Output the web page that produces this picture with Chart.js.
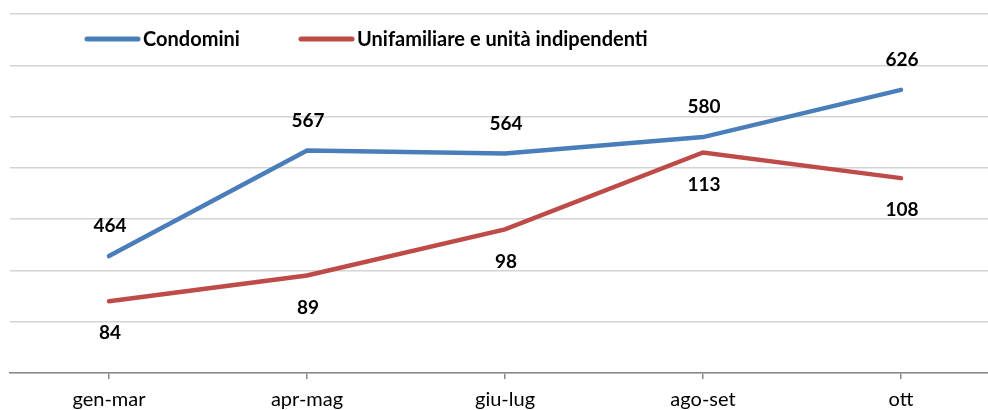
<!DOCTYPE html>
<html>
<head>
<meta charset="utf-8">
<script src="https://cdn.jsdelivr.net/npm/chart.js@4/dist/chart.umd.min.js"></script>
<style>
  html, body { margin: 0; padding: 0; background: #fff; overflow: hidden; }
  #wrap { width: 1012px; height: 410px; position: relative; }
</style>
</head>
<body>
<div id="wrap"><canvas id="graficoCompravendite"></canvas></div>
<script>
// periodi e valori
var periodi = ['gen-mar', 'apr-mag', 'giu-lug', 'ago-set', 'ott'];
var condomini = [464, 567, 564, 580, 626];
var unifamiliari = [84, 89, 98, 113, 108];
var nomiSerie = ['Condomini', 'Unifamiliare e unità indipendenti'];

var BLU = '#4A7EBB';
var ROSSO = '#BE4B48';
var FONT = 'Lato, "Open Sans", sans-serif';

// etichette dei valori sopra/sotto i punti
var etichettePlugin = {
    id: 'etichette',
    afterDatasetsDraw: function (chart) {
        var ctx = chart.ctx;
        ctx.save();
        ctx.font = 'bold 19px ' + FONT;
        ctx.fillStyle = '#000';
        ctx.textAlign = 'center';
        ctx.textBaseline = 'middle';
        chart.data.datasets.forEach(function (ds, i) {
            var meta = chart.getDatasetMeta(i);
            meta.data.forEach(function (pt, j) {
                ctx.fillText(ds.data[j], pt.x + 1, pt.y + ds.spostamento);
            });
        });
        ctx.restore();
    }
};

// legenda disegnata dentro l'area del grafico
var legendaPlugin = {
    id: 'legenda',
    afterDraw: function (chart) {
        var ctx = chart.ctx;
        var posizioni = [85, 299];
        ctx.save();
        ctx.font = 'bold 20px ' + FONT;
        ctx.textBaseline = 'middle';
        chart.data.datasets.forEach(function (ds, i) {
            var x = posizioni[i];
            var y = 39;
            ctx.strokeStyle = ds.borderColor;
            ctx.lineWidth = 5;
            ctx.lineCap = 'round';
            ctx.beginPath();
            ctx.moveTo(x + 2, y);
            ctx.lineTo(x + 53, y);
            ctx.stroke();
            ctx.fillStyle = '#000';
            ctx.fillText(ds.label, x + 58, y + 1);
        });
        ctx.restore();
    }
};

var ctx = document.getElementById('graficoCompravendite').getContext('2d');

var myChart = new Chart(ctx, {
    type: 'line',
    data: {
        labels: periodi,
        datasets: [{
            label: nomiSerie[0],
            data: condomini,
            borderColor: BLU,
            backgroundColor: BLU,
            borderWidth: 4.5,
            borderCapStyle: 'round',
            pointRadius: 0,
            yAxisID: 'y',
            spostamento: -30
        }, {
            label: nomiSerie[1],
            data: unifamiliari,
            borderColor: ROSSO,
            backgroundColor: ROSSO,
            borderWidth: 4.5,
            borderCapStyle: 'round',
            pointRadius: 0,
            yAxisID: 'y1',
            spostamento: 32
        }]
    },
    options: {
        responsive: true,
        maintainAspectRatio: false,
        animation: false,
        layout: { padding: { left: 10, right: 12, top: 14, bottom: 0 } },
        plugins: {
            legend: { display: false },
            tooltip: { enabled: false }
        },
        scales: {
            x: {
                offset: true,
                grid: {
                    drawOnChartArea: false,
                    color: '#888',
                    lineWidth: 1.5,
                    tickLength: 6
                },
                border: { color: '#888', width: 1.5 },
                ticks: {
                    color: '#000',
                    font: { family: FONT, size: 20 },
                    padding: 9
                },
                afterFit: function (scale) { scale.height = 37; }
            },
            y: {
                position: 'left',
                min: 350,
                max: 700,
                ticks: { stepSize: 50, display: false },
                grid: { color: '#D4D4D4', lineWidth: 1.5, drawTicks: false },
                border: { display: false },
                afterFit: function (scale) { scale.width = 0; }
            },
            y1: {
                position: 'right',
                min: 70,
                max: 140,
                display: false
            }
        }
    },
    plugins: [etichettePlugin, legendaPlugin]
});
</script>
</body>
</html>
